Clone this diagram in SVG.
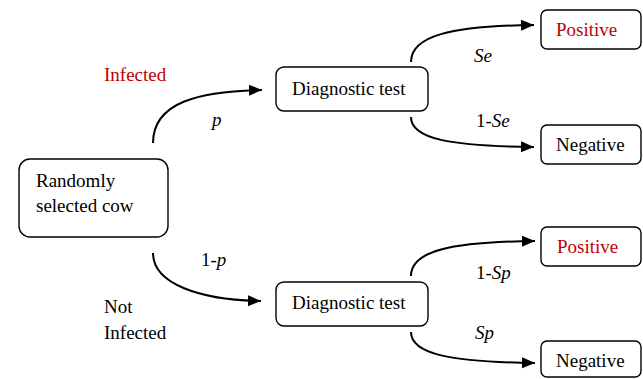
<svg xmlns="http://www.w3.org/2000/svg" width="643" height="379" viewBox="0 0 643 379">
<style>
.box{fill:#fff;stroke:#000;stroke-width:1.4}
text{font-family:'Liberation Serif','DejaVu Serif',serif;font-size:19px;fill:#000}
.red{fill:#c00000}
.i{font-style:italic}
.c{fill:none;stroke:#000;stroke-width:2}
</style>
<defs>
<marker id="ah" markerUnits="userSpaceOnUse" markerWidth="14" markerHeight="14" viewBox="0 0 14 14" refX="13" refY="7" orient="auto">
<path d="M0,1.5 L13,7 L0,12.5 Z" fill="#000"/>
</marker>
</defs>
<rect width="643" height="379" fill="#fff"/>
<g id="connectors">
<path class="c" d="M153,143 C153,102 200,91 262,90" marker-end="url(#ah)"/>
<path class="c" d="M153,253 C153,284 200,300 261,301" marker-end="url(#ah)"/>
<path class="c" d="M411,62 C411,36 450,26 534,25" marker-end="url(#ah)"/>
<path class="c" d="M411,117 C411,139 450,146 534,147" marker-end="url(#ah)"/>
<path class="c" d="M411,276 C411,251 450,242 535,241" marker-end="url(#ah)"/>
<path class="c" d="M411,332 C411,354 450,362 535,363" marker-end="url(#ah)"/>
</g>
<g id="labels" font-family="Liberation Serif, serif">
<text class="red" x="104" y="81">Infected</text>
<text class="i" x="212" y="126">p</text>
<text x="201" y="266">1-<tspan class="i">p</tspan></text>
<text x="104" y="313">Not</text>
<text x="104" y="339">Infected</text>
<text class="i" x="474" y="62">Se</text>
<text x="476" y="127">1-<tspan class="i">Se</tspan></text>
<text x="476" y="279">1-<tspan class="i">Sp</tspan></text>
<text class="i" x="475" y="339">Sp</text>
</g>
<g id="cow">
<rect class="box" x="19" y="159" width="149" height="78" rx="11"/>
<text x="36" y="187">Randomly</text>
<text x="36" y="212">selected cow</text>
</g>
<g id="test-top">
<rect class="box" x="276" y="67" width="152" height="44" rx="8"/>
<text x="292" y="95">Diagnostic test</text>
</g>
<g id="test-bottom">
<rect class="box" x="276" y="282" width="152" height="44" rx="8"/>
<text x="292" y="309">Diagnostic test</text>
</g>
<g id="pos-top">
<rect class="box" x="541" y="10" width="100" height="39" rx="6"/>
<text class="red" x="556" y="36">Positive</text>
</g>
<g id="neg-top">
<rect class="box" x="541" y="125" width="100" height="39" rx="6"/>
<text x="556" y="151">Negative</text>
</g>
<g id="pos-bottom">
<rect class="box" x="541" y="227" width="100" height="39" rx="6"/>
<text class="red" x="557" y="253">Positive</text>
</g>
<g id="neg-bottom">
<rect class="box" x="541" y="341" width="100" height="36" rx="6"/>
<text x="556" y="367">Negative</text>
</g>
</svg>
